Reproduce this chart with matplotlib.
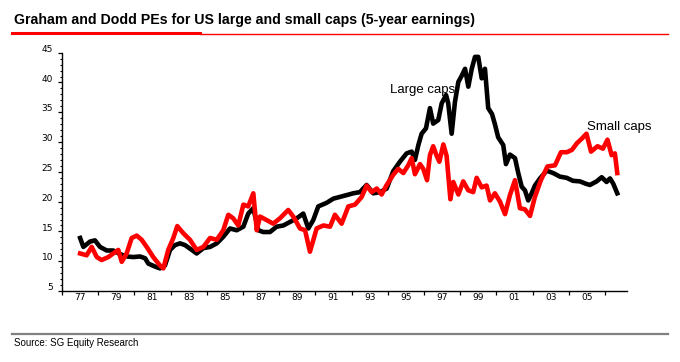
import matplotlib
matplotlib.use('Agg')
from matplotlib import pyplot as plt
from matplotlib.lines import Line2D
from matplotlib.transforms import ScaledTranslation

# Graham and Dodd PE, US large caps (black) - decimal year / PE
large_years = [1978.0, 1978.18, 1978.55, 1978.82, 1979.10, 1979.47, 1979.83, 1980.20, 1980.57, 1980.94,
               1981.31, 1981.59, 1981.77, 1982.14, 1982.41, 1982.69, 1982.97, 1983.24, 1983.52, 1983.80,
               1984.17, 1984.44, 1984.81, 1985.18, 1985.55, 1985.91, 1986.28, 1986.65, 1987.02, 1987.29,
               1987.57, 1987.85, 1988.12, 1988.49, 1988.86, 1989.23, 1989.60, 1989.97, 1990.33, 1990.61,
               1990.88, 1991.16, 1991.62, 1991.99, 1992.36, 1992.73, 1993.09, 1993.46, 1993.83, 1994.20,
               1994.57, 1994.94, 1995.30, 1995.67, 1996.04, 1996.32, 1996.50, 1996.69, 1996.87, 1997.11,
               1997.33, 1997.51, 1997.79, 1997.98, 1998.22, 1998.34, 1998.53, 1998.71, 1998.90, 1999.08,
               1999.27, 1999.45, 1999.64, 1999.82, 2000.00, 2000.19, 2000.37, 2000.55, 2000.76, 2000.92,
               2001.10, 2001.38, 2001.53, 2001.75, 2002.03, 2002.21, 2002.40, 2002.58, 2002.76, 2002.95,
               2003.13, 2003.41, 2003.78, 2004.14, 2004.51, 2004.88, 2005.23, 2005.62, 2005.95, 2006.17,
               2006.54, 2006.82, 2007.09, 2007.28, 2007.46, 2007.68]
large_pe = [13.9, 12.4, 13.3, 13.5, 12.4, 11.8, 11.8, 11.2, 10.8, 10.7,
            10.8, 10.5, 9.6, 9.1, 8.8, 9.3, 11.9, 12.7, 13.0, 12.7,
            11.9, 11.3, 12.2, 12.4, 13.0, 14.1, 15.5, 15.2, 15.8, 18.0,
            18.9, 15.2, 14.9, 14.9, 15.8, 16.0, 16.6, 17.2, 18.0, 15.5,
            16.9, 19.2, 19.8, 20.5, 20.8, 21.1, 21.4, 21.6, 22.8, 21.4,
            21.6, 22.2, 25.1, 26.7, 28.1, 28.4, 27.0, 29.5, 31.4, 32.3,
            35.7, 33.1, 33.7, 36.5, 37.9, 36.5, 31.4, 36.7, 40.1, 41.1,
            42.3, 39.3, 42.3, 44.3, 44.3, 40.7, 42.3, 35.7, 34.7, 33.0,
            30.8, 29.5, 26.3, 27.9, 27.3, 24.8, 22.5, 21.9, 20.2, 21.4,
            22.7, 23.9, 25.2, 24.8, 24.2, 24.0, 23.5, 23.4, 23.0, 22.8,
            23.4, 24.1, 23.3, 23.9, 23.0, 21.4]

# Graham and Dodd PE, US small caps (red)
small_years = [1978.0, 1978.36, 1978.64, 1978.92, 1979.19, 1979.56, 1979.83, 1980.11, 1980.30, 1980.57,
               1980.85, 1981.13, 1981.40, 1981.68, 1982.04, 1982.41, 1982.60, 1982.87, 1983.15, 1983.37,
               1983.70, 1984.07, 1984.44, 1984.81, 1985.18, 1985.55, 1985.91, 1986.19, 1986.46, 1986.74,
               1987.02, 1987.29, 1987.57, 1987.76, 1987.94, 1988.31, 1988.67, 1989.04, 1989.50, 1989.78,
               1990.15, 1990.43, 1990.70, 1991.07, 1991.44, 1991.81, 1992.08, 1992.45, 1992.82, 1993.19,
               1993.56, 1993.83, 1994.11, 1994.39, 1994.66, 1994.94, 1995.30, 1995.58, 1995.86, 1996.13,
               1996.32, 1996.50, 1996.78, 1996.96, 1997.17, 1997.33, 1997.51, 1997.70, 1997.85, 1998.07,
               1998.25, 1998.46, 1998.62, 1998.90, 1999.17, 1999.45, 1999.72, 1999.91, 2000.19, 2000.46,
               2000.65, 2000.92, 2001.20, 2001.48, 2001.75, 2002.03, 2002.30, 2002.58, 2002.86, 2003.13,
               2003.46, 2003.82, 2004.24, 2004.57, 2004.90, 2005.18, 2005.45, 2005.73, 2005.98, 2006.23,
               2006.59, 2006.89, 2007.14, 2007.37, 2007.55, 2007.68]
small_pe = [11.3, 11.0, 12.4, 10.7, 10.2, 10.7, 11.3, 11.9, 9.9, 11.3,
            13.9, 14.3, 13.6, 12.4, 10.7, 9.3, 8.8, 11.9, 13.9, 15.9,
            14.7, 13.6, 11.9, 12.4, 13.9, 13.6, 15.2, 17.8, 17.2, 16.0,
            19.5, 19.2, 21.4, 15.2, 17.5, 16.9, 16.3, 17.2, 18.6, 17.5,
            15.5, 15.2, 11.6, 15.5, 16.0, 15.8, 17.8, 16.3, 19.2, 19.5,
            20.8, 22.7, 21.6, 22.2, 21.2, 22.8, 24.5, 25.5, 24.8, 26.1,
            27.3, 24.6, 26.3, 25.5, 23.6, 27.8, 29.3, 27.7, 26.7, 29.6,
            27.7, 20.4, 23.3, 21.2, 23.4, 21.9, 21.6, 24.0, 22.4, 22.7,
            20.2, 21.4, 20.0, 17.9, 21.1, 23.6, 18.9, 18.7, 17.6, 20.8,
            23.6, 25.9, 26.1, 28.3, 28.3, 28.7, 29.8, 30.6, 31.4, 28.4,
            29.3, 28.9, 30.4, 27.8, 28.1, 24.8]

tick_years = list(range(1977, 2009, 2))
label_years = list(range(1978, 2007, 2))
year_labels = ['77', '79', '81', '83', '85', '87', '89', '91', '93', '95', '97', '99', '01', '03', '05']
y_ticks = list(range(5, 50, 5))

fig = plt.figure(figsize=(6.8, 3.62), dpi=100)
ax = fig.add_axes([0.0912, 0.1961, 0.8309, 0.6583])

ax.plot(large_years, large_pe, color='black', lw=3.3, solid_joinstyle='round')
ax.plot(small_years, small_pe, color='#ff0000', lw=3.3, solid_joinstyle='round')

ax.set_xlim(1977.0, 2008.22)
ax.set_ylim(5, 45)

for s in ['top', 'right']:
    ax.spines[s].set_visible(False)
for s in ['left', 'bottom']:
    ax.spines[s].set_linewidth(1.0)

# ticks on year boundaries, labels centred between them
ax.set_xticks(tick_years)
ax.set_xticklabels([''] * len(tick_years))
ax.set_xticks(label_years, minor=True)
ax.set_xticklabels(year_labels, minor=True)
ax.tick_params(axis='x', which='major', direction='out', length=3, width=0.9)
ax.tick_params(axis='x', which='minor', length=0, pad=1.5, labelsize=6.5)

ax.set_yticks(y_ticks)
ax.set_yticklabels([str(v) for v in y_ticks])
ax.set_yticks(range(5, 46), minor=True)
ax.tick_params(axis='y', which='major', direction='out', length=3, width=0.9, labelsize=6.5, pad=3.5)
ax.tick_params(axis='y', which='minor', direction='out', length=1.8, width=0.8)
# the y labels sit a little above their ticks in the original
lift = ScaledTranslation(0, 4.4 / 100, fig.dpi_scale_trans)
for lab in ax.get_yticklabels():
    lab.set_transform(lab.get_transform() + lift)

ax.text(1995.12, 38.7, 'Large caps', fontsize=9.5, family='Liberation Sans', va='center', zorder=1)
ax.text(2006.0, 32.6, 'Small caps', fontsize=9.5, family='Liberation Sans', va='center')

fig.text(14 / 680, 1 - 20 / 362, 'Graham and Dodd PEs for US large and small caps (5-year earnings)',
         fontsize=10.2, fontweight='bold', family='Liberation Sans', va='center')
fig.add_artist(Line2D([12 / 680, 200 / 680], [1 - 33 / 362] * 2, color='#ff0000', lw=2.2))
fig.add_artist(Line2D([200 / 680, 668 / 680], [1 - 33.5 / 362] * 2, color='#ff0000', lw=1.0))

fig.add_artist(Line2D([12 / 680, 668 / 680], [1 - 334 / 362] * 2, color='#808080', lw=1.6))
fig.text(14 / 680, 1 - 343 / 362, 'Source: SG Equity Research', fontsize=7,
         family='Liberation Sans', va='center')

fig.savefig('out.png', dpi=100)
